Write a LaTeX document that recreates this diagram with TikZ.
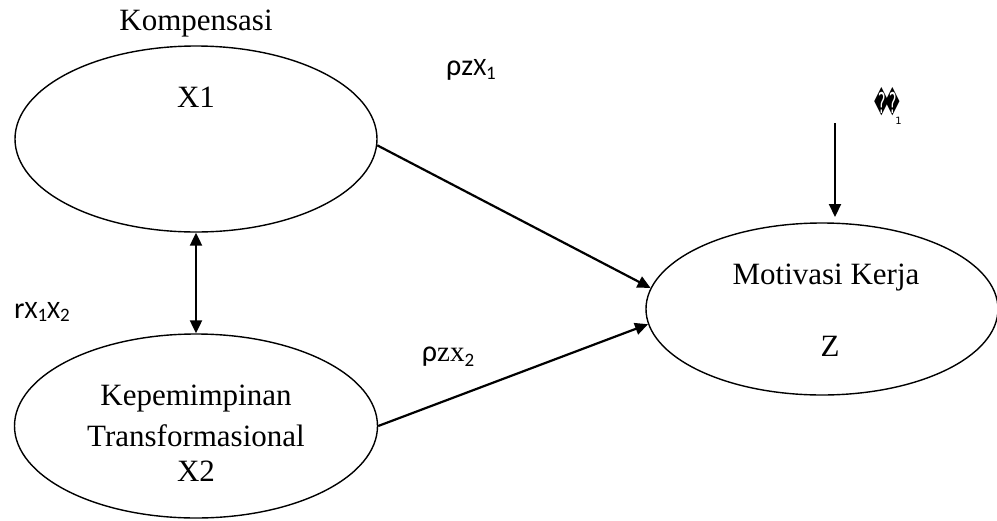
\documentclass[tikz,border=0pt]{standalone}
\usepackage{fontspec}
\setmainfont{Liberation Serif}
\newfontfamily\lblsans{Carlito}
\newfontfamily\symfont{DejaVu Sans}
\usetikzlibrary{shapes.geometric,arrows.meta}
\begin{document}
\begin{tikzpicture}[x=1pt,y=-1pt,
  latent/.style={draw,ellipse,line width=1.4pt,inner sep=0pt},
  txt/.style={font=\fontsize{31}{36}\selectfont,inner sep=0pt},
  lbl/.style={inner sep=0pt,font=\lblsans\fontsize{30}{32}\selectfont},
  arr/.style={line width=2.2pt,-{Triangle[length=13pt,width=12pt]}},
  darr/.style={line width=2.2pt,{Triangle[length=13pt,width=12pt]}-{Triangle[length=13pt,width=12pt]}}]
\useasboundingbox (0,0) rectangle (997,520);
\node[latent,minimum width=362pt,minimum height=186pt] (x1) at (196,139) {};
\node[latent,minimum width=363pt,minimum height=184pt] (x2) at (196,426) {};
\node[latent,minimum width=352pt,minimum height=172pt] (z) at (822,309) {};
\node[txt] (t1) at (196,24) {Kompensasi};
\node[txt] (t2) at (196,97) {X1};
\node[txt] (t3) at (196,399) {Kepemimpinan};
\node[txt] (t4) at (196,436) {Transformasional};
\node[txt] (t5) at (196,471) {X2};
\node[txt] (t6) at (826,278) {Motivasi Kerja};
\node[txt] (t7) at (830,346) {Z};
\node[lbl] (l1) at (471,70) {ρz\fontsize{25}{26}\selectfont X\raisebox{-0.3ex}{\fontsize{19}{20}\selectfont 1}};
\node[lbl] (l2) at (448,357) {ρ{\rmfamily\fontsize{29}{30}\selectfont zx}\raisebox{-0.35ex}{\fontsize{19}{20}\selectfont 2}};
\node[lbl] (l3) at (42,312) {r\fontsize{25}{26}\selectfont X\raisebox{-0.3ex}{\fontsize{19}{20}\selectfont 1}X\raisebox{-0.3ex}{\fontsize{19}{20}\selectfont 2}};
\node[inner sep=0pt,font=\symfont\fontsize{22}{24}\selectfont] (e) at (888,106)
  {\scalebox{0.65}[1.3]{\char"FFFD}\hspace{-3pt}\scalebox{0.65}[1.3]{\char"FFFD}\hspace{-5pt}\raisebox{-0.9ex}{\fontsize{10}{11}\selectfont 1}};
\coordinate (etop) at (835,123);
\coordinate (ztop) at (835,217);
\draw[arr] (x1.-2.5) -- (z.173);
\draw[arr] (x2.-0.3) -- (z.-175.5);
\draw[darr] (x1.south) -- (x2.north);
\draw[arr] (etop) -- (ztop);
\end{tikzpicture}
\end{document}
